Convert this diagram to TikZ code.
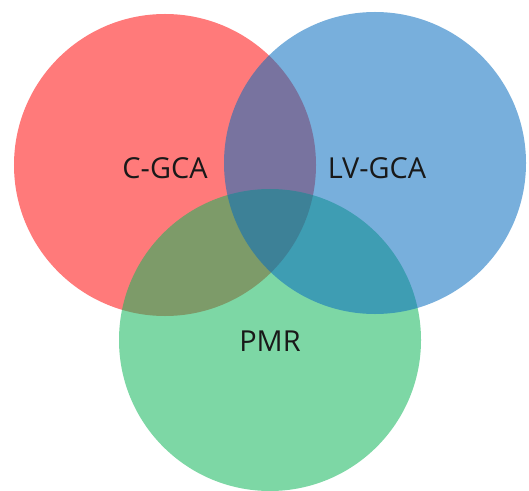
\documentclass[tikz,border=0pt]{standalone}
\usepackage{fontspec}
\setmainfont{Open Sans}
\definecolor{setred}{RGB}{255,13,13}
\definecolor{setblue}{RGB}{10,110,191}
\definecolor{setgreen}{RGB}{19,182,91}

\begin{document}
\begin{tikzpicture}[
    x=1bp,y=-1bp,
    set/.style={circle,inner sep=0pt,minimum size=302bp,fill opacity=.55},
    setname/.style={font=\fontsize{29}{30}\selectfont,text=black!90}
    ]
  \useasboundingbox (0,0) rectangle (529,491);
  % the three sets, red first, blue on top
  \node[set,fill=setred] (cgca) at (165,165) {};
  \node[set,fill=setgreen] (pmr) at (270,340) {};
  \node[set,fill=setblue] (lvgca) at (375,163) {};
  % names
  \node[setname] (cgcaname) at ([yshift=-3bp]cgca.center) {C-GCA};
  \node[setname] (lvgcaname) at ([xshift=2bp,yshift=-5bp]lvgca.center) {LV-GCA};
  \node[setname] (pmrname) at ([yshift=-1bp]pmr.center) {PMR};
\end{tikzpicture}
\end{document}
